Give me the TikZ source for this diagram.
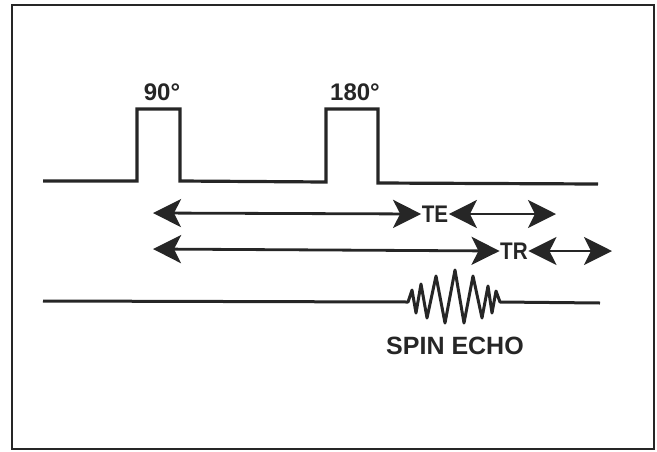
\documentclass[tikz,border=0pt]{standalone}
\usepackage{fontspec}
\setmainfont{Liberation Sans}
\newfontfamily\condfont[FakeStretch=0.86]{Liberation Sans}
\usetikzlibrary{arrows.meta}
\begin{document}
\begin{tikzpicture}[x=1pt,y=-1pt,
  frame/.style={draw=black!85,line width=1.6pt},
  pulse/.style={draw=black!85,line width=3.2pt,line join=miter},
  sig/.style={draw=black!85,line width=3pt,line join=round},
  dblarrow/.style={draw=black!85,line width=2.8pt,
    {Stealth[length=28pt,width=28pt,inset=7pt]}-{Stealth[length=28pt,width=28pt,inset=7pt]}},
  bigtxt/.style={font=\fontsize{24}{26}\selectfont\bfseries,text=black!85,inner sep=0pt},
  midtxt/.style={font=\condfont\fontsize{24}{26}\selectfont\bfseries,text=black!85,inner sep=0.5pt}]
\useasboundingbox (0,0) rectangle (657,451);
\draw[frame] (12,5) rectangle (654,449);
% pulse sequence
\draw[pulse] (43,181) -- (137,181) -- (137,109) -- (180,109) -- (180,181)
  -- (326,182) -- (326,109) -- (378,109) -- (378,183) -- (598,184);
\node[bigtxt] (p90) at (162,92) {90°};
\node[bigtxt] (p180) at (355,92) {180°};
% TE row
\node[midtxt] (TE) at (435,214) {TE};
\coordinate (teL) at (153,213);
\coordinate (teR) at (556,214);
\draw[dblarrow] (teL) -- (TE.west);
\draw[dblarrow] (TE.east) -- (teR);
% TR row
\node[midtxt] (TR) at (514,251) {TR};
\coordinate (trL) at (153,249);
\coordinate (trR) at (612,251);
\draw[dblarrow] (trL) -- (TR.west);
\draw[dblarrow] (TR.east) -- (trR);
% signal line with echo
\draw[sig] (43,301) -- (408,302) -- (412,290) -- (416,313) -- (421,284) -- (427,318)
  -- (436,276) -- (445,323) -- (455,270) -- (464,323) -- (473,276) -- (482,318)
  -- (488,286) -- (492,313) -- (496,291) -- (500,302) -- (600,303);
\node[bigtxt,font=\fontsize{25}{27}\selectfont\bfseries] (echo) at (455,346) {SPIN ECHO};
\end{tikzpicture}
\end{document}
